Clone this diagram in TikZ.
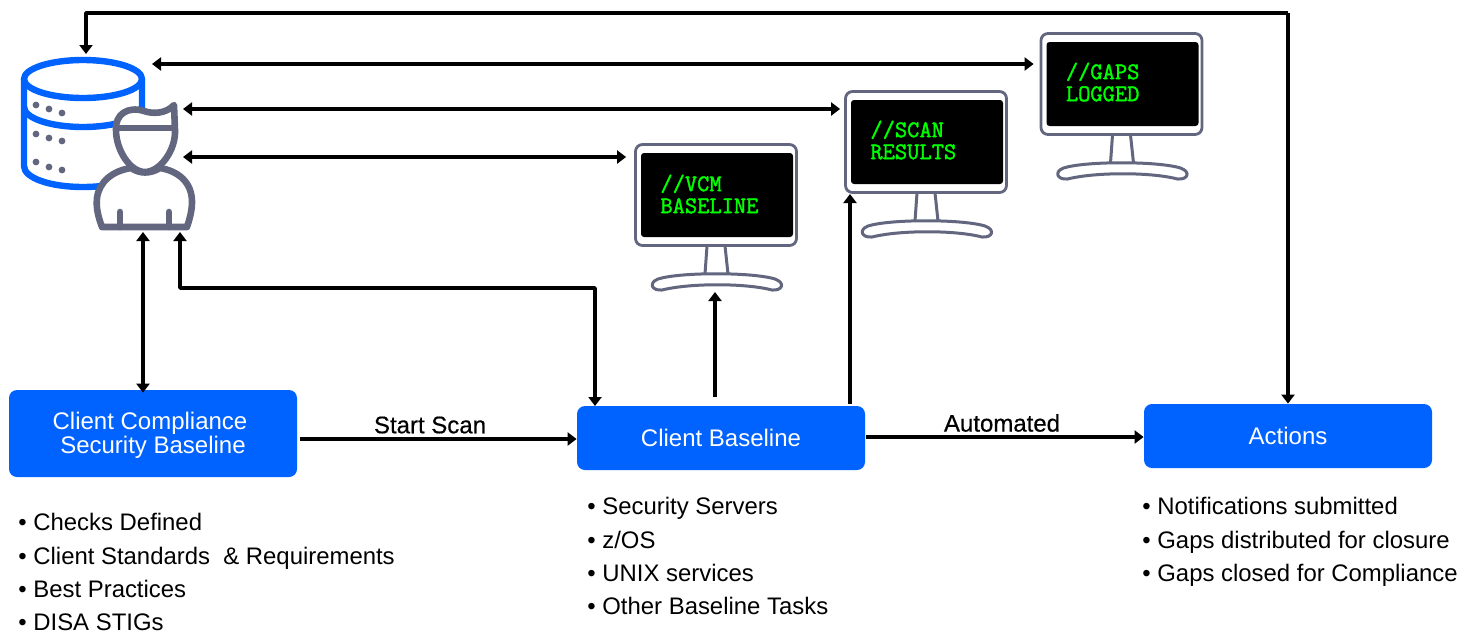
\documentclass[tikz,border=0pt]{standalone}
\usepackage{fontspec}
\setmainfont{Liberation Sans}
\newfontfamily\tagfont[FakeBold=0.5]{Liberation Sans}
\newfontfamily\termfont[FakeBold=1.6]{Latin Modern Mono}
\usetikzlibrary{arrows.meta}
\definecolor{ibmblue}{HTML}{0062FF}
\definecolor{slategray}{HTML}{62667E}
\definecolor{termgreen}{HTML}{00FF00}

\begin{document}
\begin{tikzpicture}[x=0.5pt,y=-0.5pt,line join=round]
  \tikzstyle{link}=[line width=1.8pt,-{Triangle[length=4.5pt,width=6.5pt]}]
  \tikzstyle{twolink}=[line width=1.8pt,{Triangle[length=4.5pt,width=6.5pt]}-{Triangle[length=4.5pt,width=6.5pt]}]
  \tikzstyle{stepbox}=[draw=none,fill=ibmblue,rounded corners=4pt,text=white,minimum width=144pt,align=center,inner sep=0pt,font=\fontsize{12}{12}\selectfont]
  \tikzstyle{bullets}=[anchor=north west,align=left,inner sep=0pt,font=\fontsize{11.95}{16.7}\selectfont]
  \tikzstyle{tag}=[inner sep=0pt,font=\tagfont\fontsize{12}{12}\selectfont]
  \tikzstyle{frame}=[draw=slategray,line width=1.4pt,fill=white,rounded corners=3.5pt,minimum width=80.5pt,minimum height=50.5pt,inner sep=0pt]
  \tikzstyle{screen}=[fill=black,rounded corners=1.5pt,minimum width=76pt,minimum height=42pt,inner sep=0pt]
  \tikzstyle{screentext}=[anchor=west,align=left,inner sep=0pt,text=termgreen,font=\termfont\fontsize{11.9}{11}\selectfont]
  \tikzstyle{icon}=[line width=3.2pt,draw=ibmblue]
  \tikzstyle{person}=[line width=3.3pt,draw=slategray,fill=white]

  \useasboundingbox (0,0) rectangle (1477,633);

  % Draw the database
  \draw[icon] (24,79) -- (24,166) .. controls (24,178) and (50,187) .. (83,187)
    .. controls (116,187) and (142,178) .. (142,166) -- (142,79);
  \draw[icon,fill=white] (83,79) ellipse [x radius=59,y radius=19];
  \draw[icon] (24,107) .. controls (24,118) and (50,127) .. (83,127) .. controls (116,127) and (142,118) .. (142,107);
  \foreach \dx / \dy in {36/105,49/109,62/113,36/134,49/138,62/141,36/162,49/167,62/170}
  \fill[slategray] (\dx,\dy) circle [radius=3.4];

  % Draw the person
  \draw[person] (102,227) .. controls (98,216) and (96,208) .. (97,198)
    .. controls (99,182) and (112,171) .. (131,168)
    .. controls (140,174) and (150,174) .. (160,168)
    .. controls (178,171) and (192,182) .. (192,202)
    .. controls (192,210) and (190,218) .. (187,227) -- cycle;
  \draw[person] (174,105) .. controls (166,114) and (152,114) .. (144,111)
    .. controls (128,106) and (115,114) .. (116,130)
    .. controls (116,150) and (130,172) .. (145,172)
    .. controls (160,172) and (176,150) .. (175,130) -- cycle;
  \draw[person,fill=none] (118,128) -- (172,128);
  \draw[person,line cap=round,fill=none] (120,212) -- (120,227);
  \draw[person,line cap=round,fill=none] (169,212) -- (169,227);

  % Draw the monitors
  \foreach \name / \dx / \dy / \ty / \first / \second in {V/0/0/194/VCM/BASELINE,S/210/-53/193/SCAN/RESULTS,G/405.5/-111/193/GAPS/LOGGED}
  {
    \begin{scope}[shift={(\dx,\dy)}]
      \draw[draw=slategray,line width=1.5pt] (707,246) -- (705,274);
      \draw[draw=slategray,line width=1.5pt] (725,246) -- (728,274);
      \draw[draw=slategray,line width=1.5pt,fill=white] (658,279) .. controls (680,272) and (752,272) .. (775,279)
        .. controls (786,283) and (782,291) .. (772,290) .. controls (745,283) and (690,283) .. (662,290)
        .. controls (652,291) and (648,283) .. (658,279) -- cycle;
      \node[frame] (\name-frame) at (716,195) {};
      \node[screen] (\name-screen) at (717,195) {};
      \node[screentext] (\name-text) at (660,\ty) {//\first\\\second};
    \end{scope}
  }

  % Draw the boxes
  \node[stepbox,minimum height=43.5pt] (baseline) at (153,433.5) {\hspace{-3pt}\rule{0pt}{10.6pt}Client Compliance\\Security Baseline};
  \node[stepbox,minimum height=32pt] (client) at (721,438) {Client Baseline};
  \node[stepbox,minimum height=32pt] (actions) at (1288,436) {Actions};

  % Draw the bullet lists
  \node[bullets] (checks) at (18,513) {• Checks Defined\\• Client Standards\ \ \& Requirements\\• Best Practices\\• DISA STIGs};
  \node[bullets] (servers) at (587,497) {• Security Servers\\• z/OS\\• UNIX services\\• Other Baseline Tasks};
  \node[bullets] (gaps) at (1142,497) {• Notifications submitted\\• Gaps distributed for closure\\• Gaps closed for Compliance};

  % Free ends of the connectors
  \coordinate (corner) at (1288,13);
  \coordinate (db-top) at (86,54);
  \coordinate (db-side) at (152,64);
  \coordinate (head-top) at (183,109);
  \coordinate (head-low) at (183,157);
  \coordinate (feet-left) at (143,232);
  \coordinate (feet-right) at (180,232);
  \coordinate (V-foot) at (715,292);
  \coordinate (S-foot) at (850,194);
  \coordinate (drop) at (595,406);
  \coordinate (V-rise) at (715,397);
  \coordinate (S-rise) at (850,404);
  \coordinate (scan-line) at (300,439);
  \coordinate (auto-line) at (866,437);

  % Connect nodes
  \draw[link] (corner) -| (db-top);
  \draw[link] (corner) -- (corner |- actions.north);
  \draw[twolink] (db-side) -- ([xshift=-3pt]G-frame.west |- db-side);
  \draw[twolink] (head-top) -- ([xshift=-2pt]S-frame.west |- head-top);
  \draw[twolink] (head-low) -- ([xshift=-4pt]V-frame.west |- head-low);
  \draw[twolink] (feet-left) -- ([yshift=-1.5pt]feet-left |- baseline.north);
  \draw[twolink] (feet-right) |- (drop |- 0,288) -- (drop);
  \draw[link] (V-rise) -- (V-foot);
  \draw[link] (S-rise) -- (S-foot);
  \draw[link] (scan-line) -- (client.west |- scan-line);
  \draw[link] (auto-line) -- (actions.west |- auto-line);

  \node[tag] (scan) at (430,425) {Start Scan};
  \node[tag] (auto) at (1002,423) {Automated};
\end{tikzpicture}
\end{document}
